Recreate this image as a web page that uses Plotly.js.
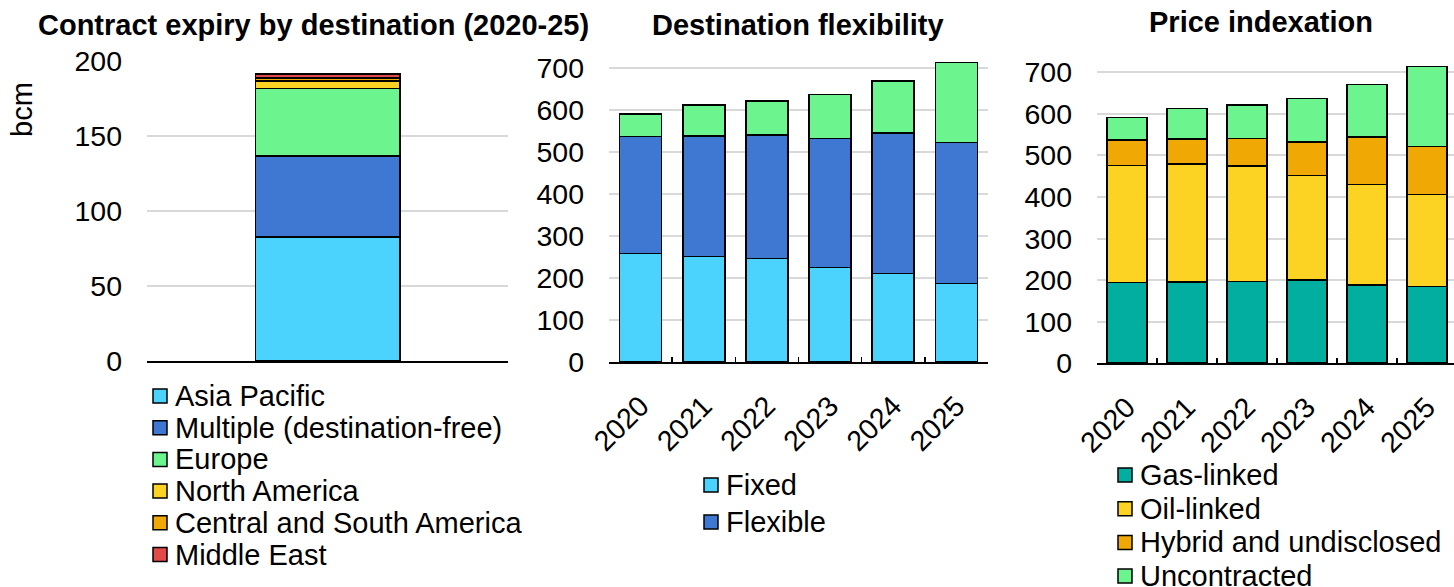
<!DOCTYPE html>
<html>
<head>
<meta charset="utf-8">
<script src="https://cdn.plot.ly/plotly-3.0.1.min.js"></script>
<style>
  html, body { margin: 0; padding: 0; background: #fff; }
  #chart { width: 1454px; height: 587px; }
</style>
</head>
<body>
<div id="chart"></div>
<script>
// LNG contract volumes, bcm

// Contract expiry by destination (2020-25)
const destCategory = ['2020-25'];
const destNames = ['Asia Pacific', 'Multiple (destination-free)', 'Europe', 'North America', 'Central and South America', 'Middle East'];
const destValues = [82.5, 54.3, 45, 5, 2, 2.5];

// Destination flexibility by year
const years = ['2020', '2021', '2022', '2023', '2024', '2025'];
const flexNames = ['Fixed', 'Flexible'];
const fixedValues = [258, 251, 246, 225, 211, 187];
const flexibleValues = [279, 287, 295, 307, 334, 336];
const flexUncontracted = [53, 74, 81, 105, 124, 190];

// Price indexation by year
const priceNames = ['Gas-linked', 'Oil-linked', 'Hybrid and undisclosed', 'Uncontracted'];
const gasLinked = [194, 196, 197, 200, 189, 185];
const oilLinked = [282, 284, 278, 252, 241, 221];
const hybridUndisclosed = [61, 60, 66, 80, 115, 116];
const priceUncontracted = [54, 73, 81, 105, 126, 192];

// Palette
const CYAN = '#4BD3FD', BLUE = '#3E78D2', GREEN = '#6CF58F', YELLOW = '#FCD322',
      ORANGE = '#EFA804', RED = '#E24A4A', TEAL = '#02AEA0';
const destColors = [CYAN, BLUE, GREEN, YELLOW, ORANGE, RED];
const flexColors = [CYAN, BLUE];
const priceColors = [TEAL, YELLOW, ORANGE, GREEN];

const W = 1454, H = 587;
const FONT = 'Liberation Sans, Arial, sans-serif';
const TEXT_SIZE = 29;
const px = x => x / W;
const py = y => 1 - y / H;
const outline = { color: '#000', width: 1.6 };

const traces = [];

destNames.forEach((name, i) => {
  traces.push({
    type: 'bar', name: name, x: destCategory, y: [destValues[i]],
    width: 0.4, marker: { color: destColors[i], line: outline },
    xaxis: 'x', yaxis: 'y', showlegend: false, hoverinfo: 'skip'
  });
});

[fixedValues, flexibleValues].forEach((vals, i) => {
  traces.push({
    type: 'bar', name: flexNames[i], x: years, y: vals,
    width: 0.665, marker: { color: flexColors[i], line: outline },
    xaxis: 'x2', yaxis: 'y2', showlegend: false, hoverinfo: 'skip'
  });
});
traces.push({
  type: 'bar', name: 'Uncontracted', x: years, y: flexUncontracted,
  width: 0.665, marker: { color: GREEN, line: outline },
  xaxis: 'x2', yaxis: 'y2', showlegend: false, hoverinfo: 'skip'
});

[gasLinked, oilLinked, hybridUndisclosed, priceUncontracted].forEach((vals, i) => {
  traces.push({
    type: 'bar', name: priceNames[i], x: years, y: vals,
    width: 0.667, marker: { color: priceColors[i], line: outline },
    xaxis: 'x3', yaxis: 'y3', showlegend: false, hoverinfo: 'skip'
  });
});

const tickFont = { family: FONT, size: 28.5, color: '#000' };

const yBase = {
  gridcolor: '#d9d9d9', gridwidth: 2, zeroline: false, showline: false,
  ticks: '', tickfont: tickFont, ticklabelstandoff: 24, fixedrange: true
};
const xBase = {
  type: 'category', showgrid: false, showline: true, linecolor: '#000', linewidth: 2,
  tickfont: tickFont, fixedrange: true
};

// Custom legends: coloured squares with outlined borders plus labels
const shapes = [];
const annotations = [];
function addLegend(names, colors, left, top, step) {
  names.forEach((name, i) => {
    const cy = top + i * step;
    shapes.push({
      type: 'rect', xref: 'paper', yref: 'paper',
      x0: px(left), x1: px(left + 14), y0: py(cy + 7), y1: py(cy - 7),
      fillcolor: colors[i], line: { color: '#000', width: 1.5 }
    });
    annotations.push({
      xref: 'paper', yref: 'paper', x: px(left + 20), y: py(cy),
      xanchor: 'left', yanchor: 'middle', showarrow: false,
      text: name, font: { family: FONT, size: TEXT_SIZE, color: '#000' }
    });
  });
}
addLegend(destNames, destColors, 153, 396, 31.7);
addLegend(flexNames, flexColors, 704, 485, 37);
addLegend(priceNames, priceColors, 1118, 475, 33.7);

// Panel titles
[['Contract expiry by destination (2020-25)', 313, 25],
 ['Destination flexibility', 798, 25],
 ['Price indexation', 1261, 22]].forEach(([t, cx, cy]) => {
  annotations.push({
    xref: 'paper', yref: 'paper', x: px(cx), y: py(cy),
    xanchor: 'center', yanchor: 'middle', showarrow: false,
    text: t, font: { family: FONT, size: TEXT_SIZE, color: '#000', weight: 700 }
  });
});

// Unit label on the first panel
annotations.push({
  xref: 'paper', yref: 'paper', x: px(22), y: py(110),
  xanchor: 'center', yanchor: 'middle', showarrow: false, textangle: -90,
  text: 'bcm', font: { family: FONT, size: TEXT_SIZE, color: '#000' }
});

const layout = {
  width: W, height: H,
  margin: { l: 0, r: 0, t: 0, b: 0 },
  paper_bgcolor: '#fff', plot_bgcolor: '#fff',
  barmode: 'stack', showlegend: false,
  font: { family: FONT, color: '#000' },
  xaxis: Object.assign({}, xBase, {
    domain: [px(147), px(508)], anchor: 'y', range: [-0.5, 0.5],
    showticklabels: false, ticks: ''
  }),
  yaxis: Object.assign({}, yBase, {
    domain: [py(361), py(61)], anchor: 'x', range: [0, 200], dtick: 50
  }),
  xaxis2: Object.assign({}, xBase, {
    domain: [px(609), px(988)], anchor: 'y2', range: [-0.5, 5.5],
    tickangle: -45, ticks: 'inside', tickson: 'boundaries', ticklen: 5,
    tickwidth: 1.5, tickcolor: '#000', ticklabelstandoff: 14
  }),
  yaxis2: Object.assign({}, yBase, {
    domain: [py(362), py(362 - 730 * 0.42)], anchor: 'x2', range: [0, 730], dtick: 100
  }),
  xaxis3: Object.assign({}, xBase, {
    domain: [px(1097), 1], anchor: 'y3', range: [-0.5, 5.45],
    tickangle: -45, ticks: 'inside', tickson: 'boundaries', ticklen: 5,
    tickwidth: 1.5, tickcolor: '#000', ticklabelstandoff: 14
  }),
  yaxis3: Object.assign({}, yBase, {
    domain: [py(363.3), py(363.3 - 730 * 0.4157)], anchor: 'x3', range: [0, 730], dtick: 100
  }),
  shapes: shapes,
  annotations: annotations
};

Plotly.newPlot('chart', traces, layout, { displayModeBar: false, staticPlot: true });
</script>
</body>
</html>
